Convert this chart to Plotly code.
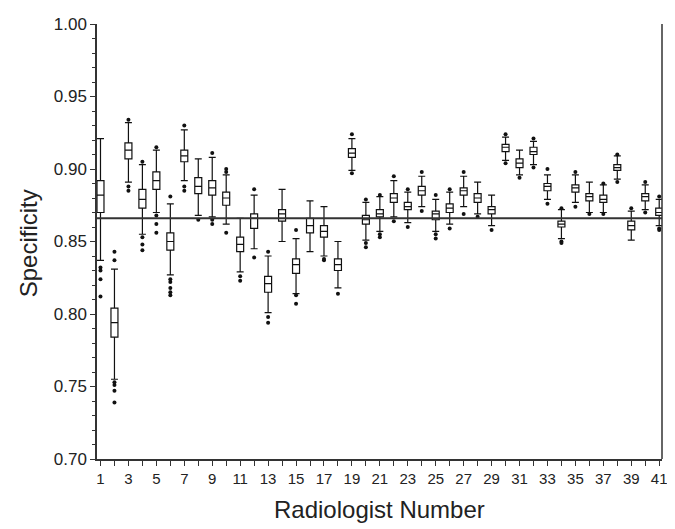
import plotly.graph_objects as go

radiologist = list(range(1, 42))

lower_whisker = [0.837, 0.755, 0.891, 0.855, 0.870, 0.827, 0.892, 0.868, 0.867, 0.862,
                 0.829, 0.845, 0.801, 0.850, 0.814, 0.843, 0.840, 0.818, 0.899, 0.851,
                 0.857, 0.867, 0.863, 0.874, 0.857, 0.862, 0.874, 0.869, 0.861, 0.906,
                 0.896, 0.903, 0.879, 0.852, 0.877, 0.870, 0.870, 0.893, 0.851, 0.872,
                 0.861]
q1 = [0.870, 0.784, 0.907, 0.873, 0.886, 0.844, 0.905, 0.883, 0.882, 0.875,
      0.843, 0.859, 0.815, 0.864, 0.828, 0.856, 0.853, 0.830, 0.908, 0.862,
      0.867, 0.877, 0.872, 0.882, 0.865, 0.870, 0.882, 0.877, 0.869, 0.912,
      0.901, 0.910, 0.885, 0.860, 0.884, 0.878, 0.877, 0.899, 0.858, 0.878,
      0.868]
median = [0.882, 0.794, 0.913, 0.879, 0.892, 0.850, 0.909, 0.888, 0.887, 0.880,
          0.848, 0.866, 0.821, 0.869, 0.834, 0.861, 0.857, 0.834, 0.911, 0.865,
          0.869, 0.880, 0.874, 0.885, 0.869, 0.873, 0.885, 0.880, 0.872, 0.915,
          0.904, 0.912, 0.888, 0.862, 0.887, 0.881, 0.879, 0.901, 0.861, 0.881,
          0.870]
q3 = [0.892, 0.804, 0.918, 0.886, 0.898, 0.856, 0.913, 0.894, 0.892, 0.884,
      0.853, 0.869, 0.826, 0.872, 0.838, 0.866, 0.861, 0.838, 0.914, 0.868,
      0.872, 0.883, 0.877, 0.888, 0.871, 0.876, 0.887, 0.883, 0.874, 0.917,
      0.907, 0.915, 0.890, 0.864, 0.889, 0.883, 0.882, 0.903, 0.864, 0.883,
      0.873]
upper_whisker = [0.921, 0.831, 0.932, 0.903, 0.913, 0.876, 0.927, 0.907, 0.908, 0.896,
                 0.866, 0.882, 0.840, 0.886, 0.852, 0.878, 0.874, 0.850, 0.921, 0.877,
                 0.881, 0.892, 0.884, 0.895, 0.879, 0.884, 0.895, 0.891, 0.882, 0.922,
                 0.913, 0.919, 0.896, 0.872, 0.896, 0.891, 0.889, 0.909, 0.871, 0.889,
                 0.879]
outliers = [
    [0.832, 0.830, 0.824, 0.812],
    [0.843, 0.837, 0.753, 0.751, 0.747, 0.739],
    [0.934, 0.888, 0.885],
    [0.905, 0.853, 0.848, 0.844],
    [0.915, 0.868, 0.862, 0.856],
    [0.881, 0.824, 0.822, 0.818, 0.815, 0.813],
    [0.930, 0.888, 0.885],
    [0.865],
    [0.911, 0.865, 0.862],
    [0.900, 0.898, 0.856],
    [0.826, 0.823],
    [0.886, 0.839],
    [0.843, 0.798, 0.794],
    [],
    [0.858, 0.813, 0.807],
    [],
    [0.838, 0.837],
    [0.814],
    [0.924, 0.897],
    [0.879, 0.849, 0.846],
    [0.882, 0.855, 0.853],
    [0.895, 0.864],
    [0.886, 0.860],
    [0.898, 0.871],
    [0.882, 0.855, 0.852],
    [0.886, 0.859],
    [0.898, 0.869],
    [0.867],
    [0.858],
    [0.924, 0.904],
    [0.894],
    [0.921, 0.901],
    [0.900, 0.876],
    [0.873, 0.850, 0.849],
    [0.898, 0.874],
    [0.869],
    [0.890, 0.869],
    [0.910, 0.891],
    [0.873],
    [0.891, 0.870],
    [0.881, 0.859, 0.858],
]
overall_specificity = 0.866
y_ticks = [0.70, 0.75, 0.80, 0.85, 0.90, 0.95, 1.00]
x_tick_labels = [str(r) if r % 2 == 1 else "" for r in radiologist]

out_x = [r for r, o in zip(radiologist, outliers) for _ in o]
out_y = [v for o in outliers for v in o]

fig = go.Figure()
fig.add_trace(go.Box(
    x=radiologist, q1=q1, median=median, q3=q3,
    lowerfence=lower_whisker, upperfence=upper_whisker,
    width=0.5, whiskerwidth=1, boxpoints=False,
    line=dict(color="#111111", width=1.2), fillcolor="white",
    showlegend=False, hoverinfo="skip",
))
fig.add_trace(go.Scatter(
    x=out_x, y=out_y, mode="markers",
    marker=dict(color="#111111", size=4, symbol="circle"),
    showlegend=False, hoverinfo="skip",
))

fig.add_shape(type="line", xref="paper", yref="y", x0=0, x1=1,
              y0=overall_specificity, y1=overall_specificity,
              line=dict(color="#333333", width=2))
fig.add_shape(type="line", xref="paper", yref="paper", x0=1, x1=1, y0=0, y1=1,
              line=dict(color="#333333", width=1.5))

font = dict(family="Liberation Sans, Arial, sans-serif", size=15, color="#222222")
# page body has an 8px default margin, so the figure is sized to fit inside it
fig.update_layout(
    width=667, height=521,
    margin=dict(l=89, r=7, t=9, b=70),
    paper_bgcolor="white", plot_bgcolor="white",
    font=font,
    xaxis=dict(range=[0.75, 41.2], tickmode="array", tickvals=radiologist,
               ticktext=x_tick_labels, ticks="outside", ticklen=5,
               tickcolor="#333333", showline=True, linecolor="#333333",
               linewidth=1.5, showgrid=False, zeroline=False,
               tickfont=dict(size=15), tickangle=0, ticklabeloverflow="allow"),
    yaxis=dict(range=[0.70, 1.00], tickmode="array", tickvals=y_ticks,
               ticktext=[f"{v:.2f}" for v in y_ticks], ticks="outside",
               ticklen=5, tickcolor="#333333", showline=True,
               linecolor="#333333", linewidth=1.5, showgrid=False,
               zeroline=False, tickfont=dict(size=17), ticklabeloverflow="allow",
               minor=dict(dtick=0.01, ticks="outside", ticklen=3,
                          tickcolor="#333333", showgrid=False)),
    annotations=[
        dict(text="Specificity", xref="paper", yref="paper",
             x=-0.121, y=0.495, xanchor="center", yanchor="middle",
             textangle=-90, showarrow=False, font=dict(size=24)),
        dict(text="Radiologist Number", xref="paper", yref="paper",
             x=0.5, y=-0.115, xanchor="center", yanchor="middle",
             showarrow=False, font=dict(size=24)),
    ],
)

fig.write_html("out.html")
